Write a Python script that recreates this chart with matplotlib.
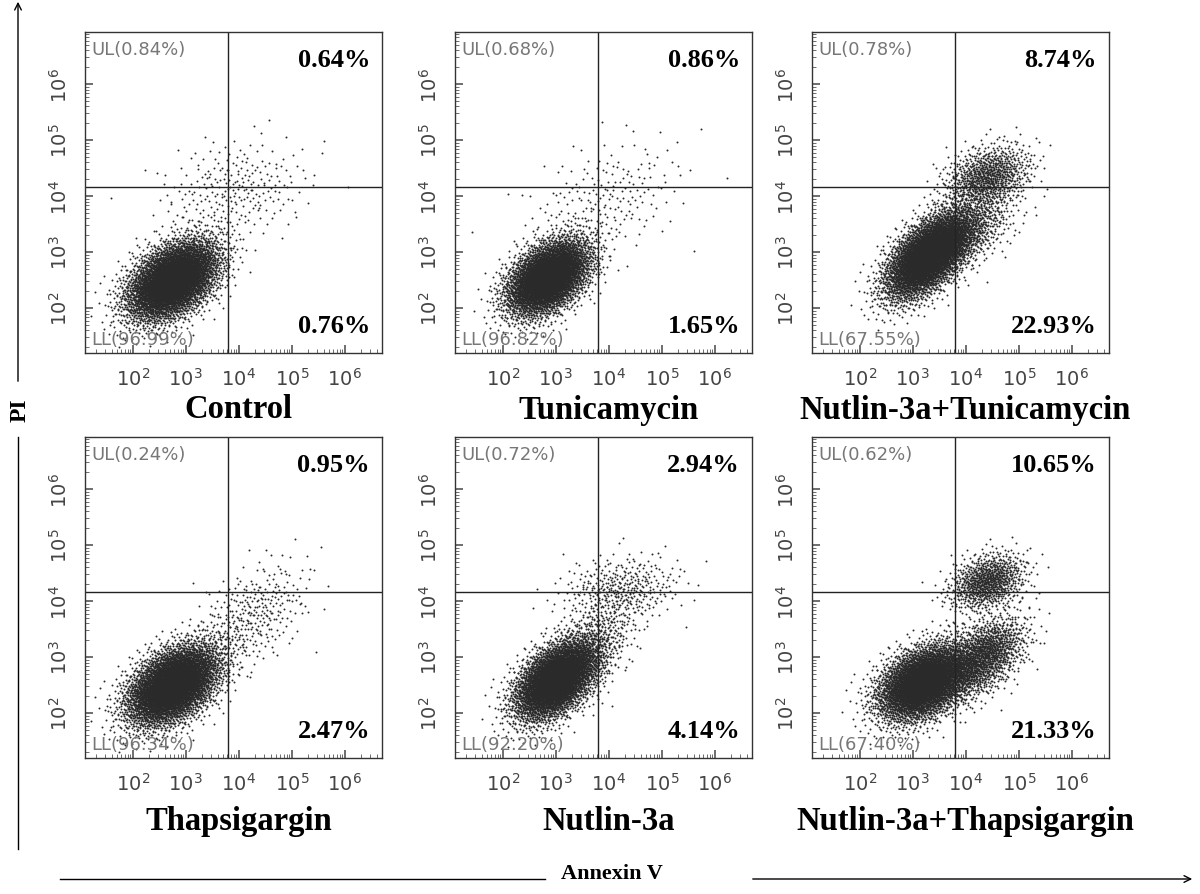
import numpy as np
import matplotlib
matplotlib.use("Agg")
import matplotlib.pyplot as plt
from matplotlib.ticker import LogLocator, NullFormatter, FixedLocator

titles = ["Control", "Tunicamycin", "Nutlin-3a+Tunicamycin",
          "Thapsigargin", "Nutlin-3a", "Nutlin-3a+Thapsigargin"]
ul = ["UL(0.84%)", "UL(0.68%)", "UL(0.78%)", "UL(0.24%)", "UL(0.72%)", "UL(0.62%)"]
ur = ["0.64%", "0.86%", "8.74%", "0.95%", "2.94%", "10.65%"]
ll = ["LL(96.99%)", "LL(96.82%)", "LL(67.55%)", "LL(96.34%)", "LL(92.20%)", "LL(67.40%)"]
lr = ["0.76%", "1.65%", "22.93%", "2.47%", "4.14%", "21.33%"]
# cluster descriptions per panel: (log10 x centre, log10 y centre, sx, sy, corr, n events)
clusters = [
    [(2.75, 2.5, 0.42, 0.35, 0.45, 5500), (3.9, 4.1, 0.7, 0.45, 0.2, 260)],
    [(2.85, 2.55, 0.38, 0.33, 0.45, 5000), (3.9, 3.9, 0.75, 0.55, 0.4, 220)],
    [(3.3, 2.95, 0.4, 0.38, 0.6, 5200), (4.4, 4.35, 0.4, 0.28, 0.3, 900), (4.0, 3.4, 0.45, 0.35, 0.5, 700)],
    [(2.75, 2.5, 0.42, 0.35, 0.45, 5500), (4.2, 3.7, 0.55, 0.5, 0.5, 350)],
    [(3.0, 2.6, 0.38, 0.35, 0.5, 5000), (4.2, 4.2, 0.55, 0.3, 0.2, 380), (3.7, 3.2, 0.4, 0.4, 0.5, 400)],
    [(3.2, 2.55, 0.42, 0.33, 0.4, 5000), (4.4, 4.35, 0.35, 0.25, 0.3, 900), (4.3, 3.0, 0.4, 0.35, 0.5, 1500)],
]
qx, qy = 3.8, 4.16


def halton(n, base, start):
    out = np.zeros(n)
    for i in range(n):
        f, r, k = 1.0, 0.0, i + start
        while k > 0:
            f /= base
            r += f * (k % base)
            k //= base
        out[i] = r
    return np.clip(out, 1e-6, 1 - 1e-6)


def norm_ppf(p):
    # Acklam's rational approximation of the inverse normal CDF
    a = [-3.969683028665376e+01, 2.209460984245205e+02, -2.759285104469687e+02,
         1.383577518672690e+02, -3.066479806614716e+01, 2.506628277459239e+00]
    b = [-5.447609879822406e+01, 1.615858368580409e+02, -1.556989798598866e+02,
         6.680131188771011e+01, -1.328068155288572e+01]
    c = [-7.784894002430293e-03, -3.223964580411365e-01, -2.400758277161838e+00,
         -2.549671058442968e+00, 4.374664141464968e+00, 2.938163982698783e+00]
    d = [7.784695709041462e-03, 3.224671290700398e-01, 2.445134137142996e+00,
         3.754408661907416e+00]
    p = np.asarray(p)
    q = np.minimum(p, 1 - p)
    t = np.sqrt(-2 * np.log(q))
    tail = (((((c[0]*t+c[1])*t+c[2])*t+c[3])*t+c[4])*t+c[5]) / ((((d[0]*t+d[1])*t+d[2])*t+d[3])*t+1)
    tail = np.where(p < 0.5, tail, -tail)
    qq = p - 0.5
    r = qq * qq
    cen = (((((a[0]*r+a[1])*r+a[2])*r+a[3])*r+a[4])*r+a[5])*qq / (((((b[0]*r+b[1])*r+b[2])*r+b[3])*r+b[4])*r+1)
    return np.where(np.abs(qq) < 0.475, cen, tail)


fig = plt.figure(figsize=(12, 8.95), dpi=100)
W, H = 1200, 895
boxes = [(85, 33), (455, 33), (812, 33), (85, 438), (455, 438), (812, 438)]
bw, bh = 297, 321
title_y = [410, 410, 410, 822, 822, 822]
for p in range(6):
    x0, y0 = boxes[p]
    ax = fig.add_axes([x0 / W, 1 - (y0 + bh) / H, bw / W, bh / H])
    xs, ys = [], []
    for k, (cx, cy, sx, sy, r, n) in enumerate(clusters[p]):
        z1 = norm_ppf(halton(n, 2, 37 + 911 * k + 53 * p))
        z2 = norm_ppf(halton(n, 3, 37 + 911 * k + 53 * p))
        lx = cx + sx * z1
        ly = cy + sy * (r * z1 + np.sqrt(1 - r * r) * z2)
        xs.append(lx); ys.append(ly)
    lx = np.concatenate(xs); ly = np.concatenate(ys)
    ax.scatter(10 ** lx, 10 ** ly, s=2.0, c="#2a2a2a", linewidths=0, rasterized=True)
    ax.set_xscale("log"); ax.set_yscale("log")
    ax.set_xlim(10 ** 1.1, 10 ** 6.7); ax.set_ylim(10 ** 1.2, 10 ** 6.93)
    ax.axvline(10 ** qx, color="#222222", lw=1)
    ax.axhline(10 ** qy, color="#222222", lw=1)
    ax.xaxis.set_major_locator(FixedLocator([1e2, 1e3, 1e4, 1e5, 1e6]))
    ax.yaxis.set_major_locator(FixedLocator([1e2, 1e3, 1e4, 1e5, 1e6]))
    ax.xaxis.set_minor_locator(LogLocator(base=10, subs=np.arange(2, 10), numticks=20))
    ax.yaxis.set_minor_locator(LogLocator(base=10, subs=np.arange(2, 10), numticks=20))
    ax.xaxis.set_minor_formatter(NullFormatter()); ax.yaxis.set_minor_formatter(NullFormatter())
    ax.tick_params(which="both", direction="in", color="#555555", labelsize=14, labelcolor="#444444")
    ax.tick_params(which="major", length=6, width=1.2)
    ax.tick_params(which="minor", length=3)
    ax.tick_params(axis="x", pad=10)
    ax.tick_params(axis="y", pad=10)
    for lab in ax.get_yticklabels():
        lab.set_rotation(90); lab.set_va("center")
    for s in ax.spines.values():
        s.set_color("#333333"); s.set_linewidth(1)
    ax.text(0.02, 0.975, ul[p], transform=ax.transAxes, fontsize=13, color="#777777", va="top")
    ax.text(0.02, 0.015, ll[p], transform=ax.transAxes, fontsize=13, color="#777777", va="bottom")
    ax.text(0.96, 0.915, ur[p], transform=ax.transAxes, fontsize=19, fontweight="bold",
            family="Liberation Serif", ha="right", va="center")
    ax.text(0.96, 0.085, lr[p], transform=ax.transAxes, fontsize=19, fontweight="bold",
            family="Liberation Serif", ha="right", va="center")
    fig.text((x0 + bw / 2 + 5) / W, 1 - title_y[p] / H, titles[p], fontsize=23.5,
             fontweight="bold", family="Liberation Serif", ha="center", va="center")

fig.text(20 / W, 1 - 410 / H, "PI", rotation=90, fontsize=17, fontweight="bold",
         family="Liberation Serif", ha="center", va="center")
fig.text(612 / W, 1 - 874 / H, "Annexin V", fontsize=16, fontweight="bold",
         family="Liberation Serif", ha="center", va="center")
fig.add_artist(matplotlib.patches.FancyArrowPatch((18 / W, 1 - 385 / H), (18 / W, 1.0), transform=fig.transFigure,
                                                  arrowstyle="->", mutation_scale=12, lw=1, color="black"))
fig.add_artist(matplotlib.lines.Line2D([18 / W, 18 / W], [1 - 850 / H, 1 - 438 / H], transform=fig.transFigure, lw=1, color="black"))
fig.add_artist(matplotlib.lines.Line2D([60 / W, 545 / W], [1 - 880 / H] * 2, transform=fig.transFigure, lw=1, color="black"))
fig.add_artist(matplotlib.patches.FancyArrowPatch((750 / W, 1 - 880 / H), (1195 / W, 1 - 880 / H), transform=fig.transFigure,
                                                  arrowstyle="->", mutation_scale=12, lw=1, color="black"))
fig.savefig("out.png", dpi=100)
